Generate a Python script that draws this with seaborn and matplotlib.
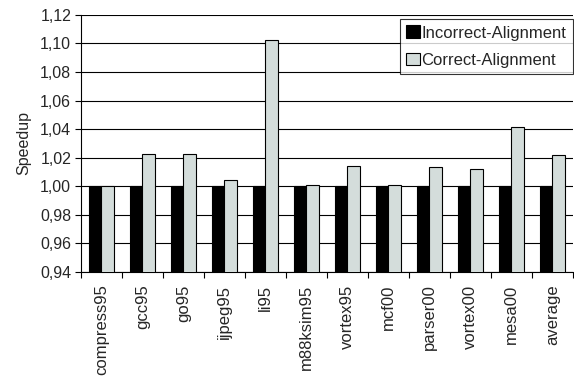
import matplotlib
matplotlib.use("Agg")
import matplotlib.pyplot as plt
import seaborn as sns
import pandas as pd
from matplotlib.ticker import FuncFormatter, FixedLocator

benchmarks = ["compress95", "gcc95", "go95", "ijpeg95", "li95", "m88ksim95",
              "vortex95", "mcf00", "parser00", "vortex00", "mesa00", "average"]
incorrect = [1.0] * 12
correct = [1.000, 1.0225, 1.0225, 1.0045, 1.1025, 1.001,
           1.0145, 1.001, 1.0135, 1.0118, 1.0415, 1.0217]
series_names = ["Incorrect-Alignment", "Correct-Alignment"]
colors = ["#000000", "#D3DEDC"]

df = pd.DataFrame({
    "bench": benchmarks * 2,
    "speedup": incorrect + correct,
    "series": [series_names[0]] * 12 + [series_names[1]] * 12,
})

sns.set_style("white")
plt.rcParams["font.family"] = ["Liberation Sans", "DejaVu Sans"]

fig = plt.figure(figsize=(5.74, 3.77), dpi=100)
ax = fig.add_axes([0.141, 0.2785, 0.857, 0.682])

sns.barplot(data=df, x="bench", y="speedup", hue="series", order=benchmarks,
            hue_order=series_names, palette=colors, width=0.62,
            edgecolor="black", linewidth=0.8, ax=ax, zorder=3)

ax.set_ylim(0.94, 1.12)
yt = [0.94 + 0.02 * i for i in range(10)]
ax.set_yticks(yt)
ax.yaxis.set_major_formatter(FuncFormatter(lambda v, p: f"{v:.2f}".replace(".", ",")))
ax.yaxis.grid(True, color="black", linewidth=0.8, zorder=0)
ax.set_axisbelow(True)
ax.set_xlim(-0.5, len(benchmarks) - 0.5)

ax.set_ylabel("Speedup", fontsize=11.5, labelpad=6)
ax.set_xlabel("")
ax.tick_params(axis="y", labelsize=11.5, length=4, width=0.8, color="black", left=True, pad=3)
ax.tick_params(axis="x", which="major", labelsize=12, rotation=90, length=0, pad=9)
ax.xaxis.set_minor_locator(FixedLocator([i - 0.5 for i in range(len(benchmarks) + 1)]))
ax.tick_params(axis="x", which="minor", length=4, width=0.8, color="black", bottom=True)

for s in ["top", "right"]:
    ax.spines[s].set_visible(False)
for s in ["left", "bottom"]:
    ax.spines[s].set_color("black")
    ax.spines[s].set_linewidth(0.8)

leg = ax.legend(loc="upper right", bbox_to_anchor=(1.0, 0.985), fontsize=12,
                frameon=True, fancybox=False, shadow=False, borderpad=0.4,
                handlelength=0.8, handleheight=0.8, handletextpad=0.1,
                labelspacing=0.72, borderaxespad=0)
leg.get_frame().set_edgecolor("black")
leg.get_frame().set_linewidth(0.8)

fig.savefig("out.png", dpi=100)
